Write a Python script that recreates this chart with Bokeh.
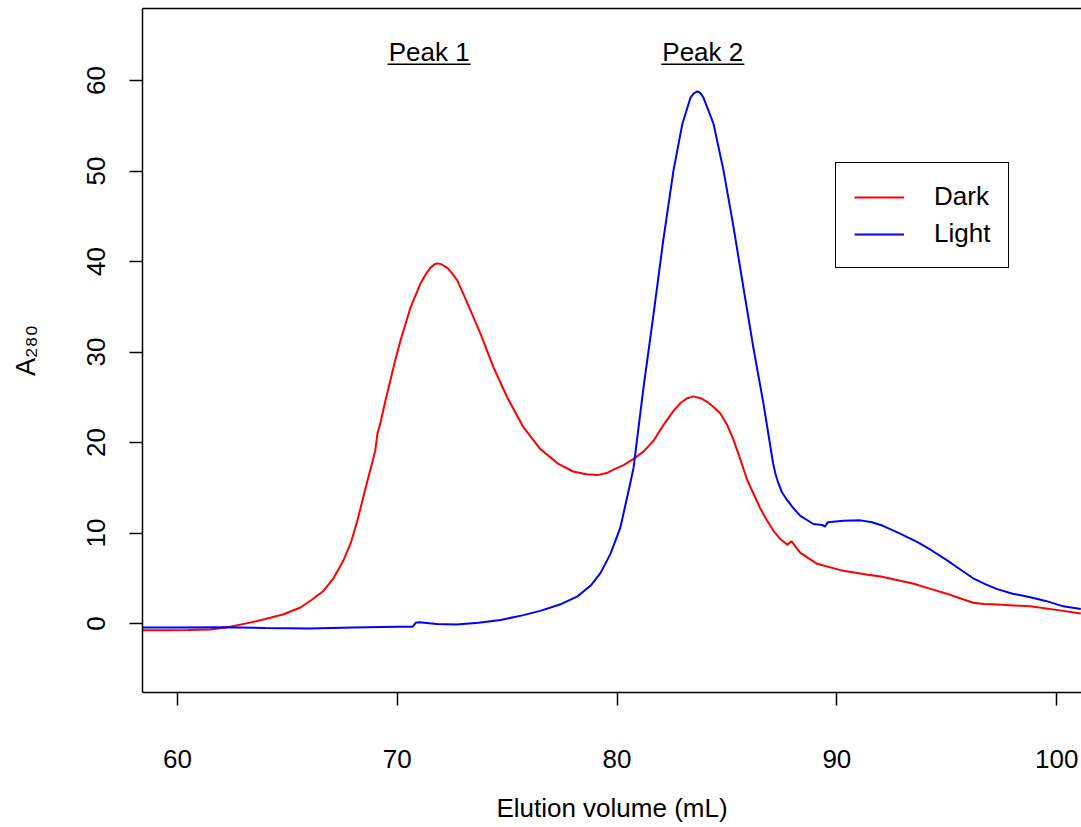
import math
from bokeh.plotting import figure
from bokeh.models import Range1d, FixedTicker, Legend, LegendItem, LinearAxis
from bokeh.embed import file_html
from bokeh.resources import INLINE
from bokeh.core.properties import value

# ---- data ----
dark_x = [58.4, 59.5, 60.5, 61.5, 62.4, 63.3, 64.0, 64.8, 65.6, 66.1, 66.64, 67.1, 67.55,
          67.9, 68.19, 68.55, 68.8, 69.0, 69.1, 69.24, 69.45, 69.69, 69.9, 70.15, 70.6,
          71.06, 71.3, 71.51, 71.7, 71.83, 72.0, 72.28, 72.5, 72.74, 73.19, 73.79, 74.38,
          75.0, 75.74, 76.5, 77.29, 78.0, 78.6, 79.1, 79.5, 79.84, 80.3, 80.75, 81.2, 81.66,
          82.1, 82.57, 82.9, 83.2, 83.48, 83.8, 84.1, 84.4, 84.7, 85.0, 85.3, 85.6, 85.93,
          86.2, 86.5, 86.8, 87.1, 87.4, 87.75, 87.93, 88.34, 89.1, 90.16, 91.4, 92.0, 92.57,
          93.5, 94.3, 95.0, 95.6, 96.2, 96.7, 97.3, 98.8, 100.3, 101.1]
dark_y = [-0.75, -0.75, -0.72, -0.65, -0.35, 0.1, 0.5, 1.0, 1.77, 2.6, 3.6, 5.0, 6.96,
          9.0, 11.4, 14.9, 17.2, 19.1, 21.0, 22.2, 24.5, 26.9, 29.0, 31.3, 34.9,
          37.6, 38.6, 39.3, 39.7, 39.8, 39.7, 39.3, 38.7, 37.9, 35.4, 32.0, 28.3,
          25.0, 21.7, 19.3, 17.7, 16.8, 16.5, 16.4, 16.6, 17.0, 17.5, 18.2, 19.0, 20.2,
          21.9, 23.5, 24.4, 24.9, 25.1, 24.9, 24.5, 23.9, 23.2, 22.0, 20.3, 18.2, 15.8,
          14.4, 12.8, 11.5, 10.3, 9.4, 8.7, 9.1, 7.8, 6.6, 5.9, 5.4, 5.2, 4.9,
          4.4, 3.8, 3.3, 2.8, 2.3, 2.15, 2.1, 1.9, 1.4, 1.1]

light_x = [58.4, 60.0, 62.0, 64.0, 66.0, 68.0, 70.0, 70.7, 70.85, 71.0, 71.8, 72.7, 73.7,
           74.7, 75.7, 76.5, 77.4, 78.2, 78.8, 79.25, 79.7, 80.15, 80.6, 80.75, 81.2,
           81.66, 82.1, 82.57, 82.97, 83.34, 83.5, 83.66, 83.8, 83.93, 84.39, 84.84, 85.3,
           85.75, 86.2, 86.66, 87.1, 87.2, 87.3, 87.5, 87.75, 88.0, 88.34, 88.93, 89.34,
           89.45, 89.6, 90.3, 91.07, 91.6, 92.1, 92.9, 93.67, 94.3, 95.0, 95.6, 96.2, 96.8,
           97.3, 98.0, 98.8, 99.5, 100.3, 101.1]
light_y = [-0.45, -0.45, -0.4, -0.5, -0.55, -0.45, -0.35, -0.35, 0.1, 0.15, -0.05, -0.1, 0.1,
           0.4, 0.9, 1.4, 2.1, 3.0, 4.2, 5.6, 7.7, 10.6, 15.5, 17.2, 26.0,
           34.2, 42.3, 50.1, 55.2, 58.1, 58.6, 58.8, 58.6, 58.1, 55.2, 50.1, 43.8,
           37.1, 30.5, 24.3, 17.7, 16.6, 15.8, 14.5, 13.6, 12.8, 11.9, 11.0, 10.9,
           10.7, 11.2, 11.35, 11.4, 11.2, 10.8, 9.9, 9.0, 8.1, 7.0, 6.0, 5.0, 4.3,
           3.8, 3.3, 2.9, 2.5, 1.9, 1.6]

series_names = ["Dark", "Light"]
series_colors = ["#FF0000", "#0000FF"]
x_ticks = [60, 70, 80, 90, 100]
y_ticks = [0, 10, 20, 30, 40, 50, 60]
peak_names = ["Peak 1", "Peak 2"]
peak_x = [71.45, 83.9]
peak_y = [63.1, 63.1]
x_title = "Elution volume (mL)"
y_title = "A\u2082\u2088\u2080"

FONT = "Liberation Sans"

p = figure(width=1081, height=826, output_backend="svg", toolbar_location=None,
           x_range=Range1d(58.41, 101.13), y_range=Range1d(-7.62, 67.96),
           min_border_left=142, min_border_right=0, min_border_top=8, min_border_bottom=134)

p.grid.visible = False
p.outline_line_color = None

r1 = p.line(dark_x, dark_y, line_color=series_colors[0], line_width=2)
r2 = p.line(light_x, light_y, line_color=series_colors[1], line_width=2)

# axes
xa = p.xaxis[0]
xa.ticker = FixedTicker(ticks=x_ticks)
xa.axis_label = x_title
ya = p.yaxis[0]
ya.ticker = FixedTicker(ticks=y_ticks)
ya.major_label_orientation = "vertical"
ya.axis_label = y_title

for ax in (xa, ya):
    ax.axis_line_color = "black"
    ax.axis_line_width = 1.5
    ax.major_tick_line_color = "black"
    ax.major_tick_line_width = 1.5
    ax.major_tick_in = 0
    ax.major_tick_out = 13
    ax.minor_tick_line_color = None
    ax.major_label_text_font = FONT
    ax.major_label_text_font_size = "26px"
    ax.major_label_text_color = "black"
    ax.axis_label_text_font = FONT
    ax.axis_label_text_font_size = "27px"
    ax.axis_label_text_font_style = "normal"
    ax.axis_label_text_color = "black"

xa.axis_label_text_font_size = "26px"
xa.major_label_standoff = 44
xa.axis_label_standoff = 22
ya.major_label_standoff = 24
ya.axis_label_standoff = 44

# top border of the box
top = LinearAxis(ticker=FixedTicker(ticks=[]), axis_line_color="black", axis_line_width=1.5,
                 major_tick_out=0, major_tick_in=0, minor_tick_out=0, minor_tick_in=0,
                 major_label_standoff=0, major_label_text_font_size="0px")
p.add_layout(top, "above")

# peak labels, underlined
p.text(x=peak_x, y=peak_y, text=peak_names, text_align="center", text_baseline="middle",
       text_font=value(FONT), text_font_size="26px", text_color="black")
half_w = 1.89
p.segment(x0=[v - half_w for v in peak_x], x1=[v + half_w for v in peak_x],
          y0=[v - 1.3 for v in peak_y], y1=[v - 1.3 for v in peak_y],
          line_color="black", line_width=1.5)

legend = Legend(items=[LegendItem(label=series_names[0], renderers=[r1]),
                       LegendItem(label=series_names[1], renderers=[r2])],
                location=(693, 424), border_line_color="black", border_line_width=1.5,
                border_line_alpha=1.0,
                padding=18, margin=0, glyph_width=50, glyph_height=28, label_height=28,
                label_standoff=30, spacing=6, label_text_font=FONT, label_text_color="black",
                label_text_font_size="26px", background_fill_alpha=1.0)
p.add_layout(legend)

open("out.html", "w").write(file_html(p, INLINE))
